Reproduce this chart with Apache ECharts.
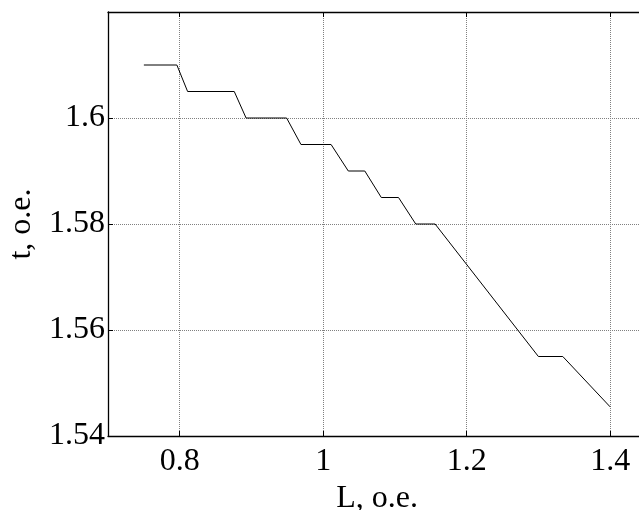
<!DOCTYPE html>
<html>
<head>
<meta charset="utf-8">
<script src="https://cdn.jsdelivr.net/npm/echarts@6/dist/echarts.min.js"></script>
<style>
  html, body { margin: 0; padding: 0; background: #fff; }
  #chart { width: 639px; height: 510px; }
</style>
</head>
<body>
<div id="chart"></div>
<script>
// L, o.e. (x) and t, o.e. (y)
var lValues = [0.75, 0.796, 0.811, 0.876, 0.8925, 0.949, 0.969, 1.011, 1.035, 1.058, 1.081, 1.105, 1.129, 1.156, 1.30, 1.334, 1.40]
var tValues = [1.61, 1.61, 1.605, 1.605, 1.60, 1.60, 1.595, 1.595, 1.59, 1.59, 1.585, 1.585, 1.58, 1.58, 1.555, 1.555, 1.5455]
var xRange = [0.7, 1.45]
var yRange = [1.54, 1.62]
var yStep = 0.02

var fontName = '"Liberation Serif", "DejaVu Serif", serif'
var gridLineStyle = { color: '#808080', type: [1, 1], width: 1 }

var points = []
for (var i = 0; i < lValues.length; i++) {
  points.push([lValues[i], tValues[i]])
}

var Options = {
  animation: false,
  backgroundColor: '#fff',
  grid: {
    left: 108,
    top: 12,
    width: 538,
    height: 424,
    outerBoundsMode: 'none',
    containLabel: false
  },
  xAxis: [{
    type: 'value',
    min: xRange[0],
    max: xRange[1],
    splitNumber: 4,
    name: 'L, o.e.',
    nameLocation: 'middle',
    nameGap: 44,
    nameTextStyle: { fontFamily: fontName, fontSize: 32, color: '#000' },
    axisLine: { show: true, lineStyle: { color: '#000', width: 1.3 } },
    axisTick: { show: true, inside: true, length: 5, lineStyle: { color: '#000' } },
    axisLabel: {
      fontFamily: fontName,
      fontSize: 32,
      color: '#000',
      margin: 10,
      showMinLabel: false,
      showMaxLabel: false
    },
    splitLine: { show: true, lineStyle: gridLineStyle }
  }, {
    type: 'value',
    position: 'top',
    min: xRange[0],
    max: xRange[1],
    splitNumber: 4,
    axisLine: { show: true, lineStyle: { color: '#000', width: 1.3 } },
    axisTick: { show: true, inside: true, length: 5, lineStyle: { color: '#000' } },
    axisLabel: { show: false },
    splitLine: { show: false }
  }],
  yAxis: {
    type: 'value',
    min: yRange[0],
    max: yRange[1],
    interval: yStep,
    name: 't, o.e.',
    nameLocation: 'middle',
    nameGap: 70,
    nameTextStyle: { fontFamily: fontName, fontSize: 32, color: '#000' },
    axisLine: { show: true, lineStyle: { color: '#000', width: 1.3 } },
    axisTick: { show: true, inside: true, length: 5, lineStyle: { color: '#000' } },
    axisLabel: {
      fontFamily: fontName,
      fontSize: 32,
      color: '#000',
      margin: 3,
      showMaxLabel: false,
      formatter: function (v) { return String(+v.toFixed(2)) }
    },
    splitLine: { show: true, lineStyle: gridLineStyle }
  },
  series: [{
    type: 'line',
    data: points,
    showSymbol: false,
    symbol: 'none',
    lineStyle: { color: '#000', width: 1 },
    z: 5
  }]
}

var Chart = echarts.init(document.getElementById('chart'))
Chart.setOption(Options)
</script>
</body>
</html>
